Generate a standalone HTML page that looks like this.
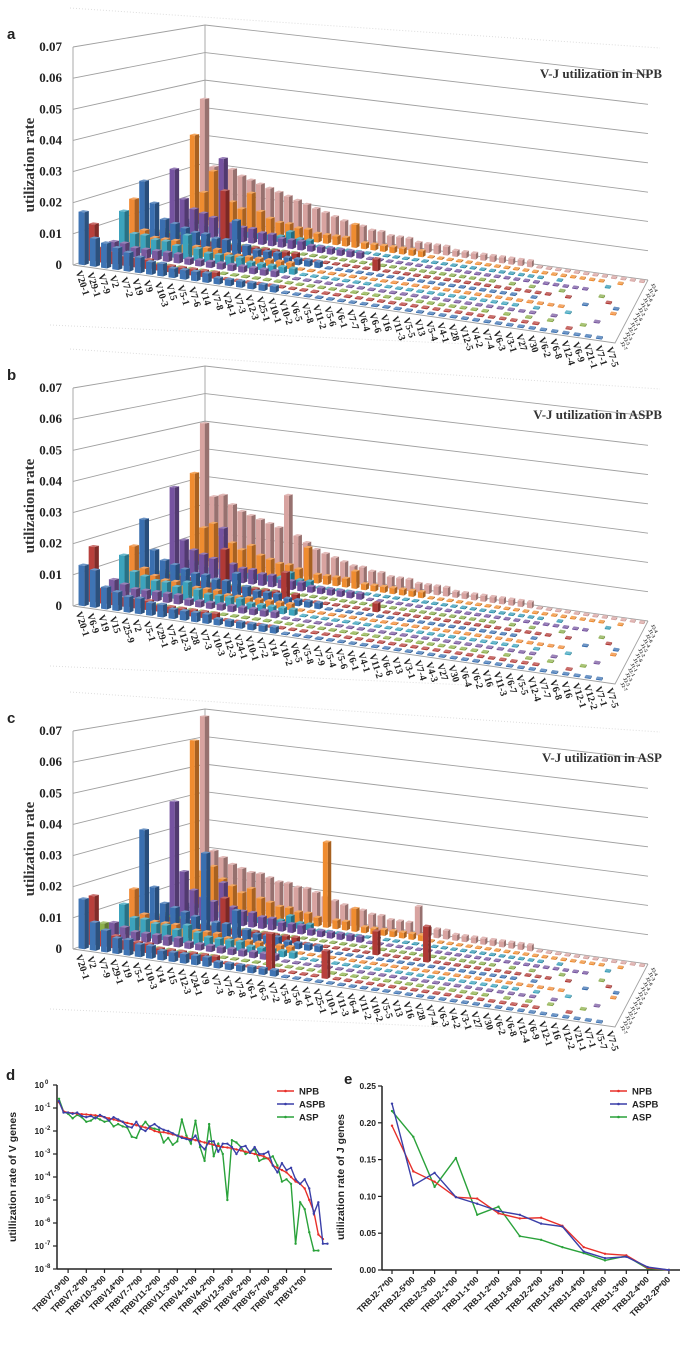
<!DOCTYPE html>
<html><head><meta charset="utf-8"><style>
html,body{margin:0;padding:0;background:#fff;}
svg{display:block;}
</style></head><body>
<svg id="fig" width="700" height="1346" viewBox="0 0 700 1346" xmlns="http://www.w3.org/2000/svg">
<g id="pa"></g>
<g id="pb"></g>
<g id="pc"></g>
<g id="pd"></g>
<g id="pe"></g>
</svg>
<script>
// ---------- 3D chart data (values in units of 0.001) ----------
const vLabelsA = ["V20-1","V29-1","V7-9","V2","V7-2","V19","V9","V10-3","V15","V5-1","V7-6","V14","V7-8","V24-1","V7-3","V12-3","V25-1","V10-1","V10-2","V6-5","V5-8","V11-2","V5-6","V6-1","V7-7","V6-4","V6-6","V16","V11-3","V5-5","V13","V5-4","V4-1","V28","V12-5","V4-2","V7-4","V6-3","V3-1","V27","V30","V6-2","V6-8","V12-4","V6-9","V21-1","V7-1","V7-5"];
const vLabelsB = ["V20-1","V6-9","V19","V15","V25-9","V2","V5-1","V29-1","V7-6","V12-3","V28","V7-3","V10-3","V12-3","V24-1","V10-1","V7-2","V14","V10-2","V6-5","V5-8","V7-9","V5-4","V5-6","V6-1","V4-1","V11-2","V6-6","V13","V3-1","V7-4","V4-3","V27","V30","V6-4","V6-2","V16","V11-3","V6-7","V5-5","V12-4","V7-7","V6-8","V16","V12-1","V12-2","V7-1","V7-5"];
const vLabelsC = ["V20-1","V2","V7-9","V29-1","V19","V5-1","V10-3","V14","V15","V12-3","V24-1","V9","V7-3","V7-6","V7-8","V6-1","V6-5","V7-2","V5-8","V5-6","V4-1","V25-1","V10-1","V11-3","V6-4","V11-2","V10-2","V5-5","V13","V16","V28","V7-4","V6-3","V4-2","V3-1","V27","V30","V6-2","V6-8","V12-4","V6-9","V12-1","V16","V12-2","V21-1","V7-1","V5-7","V7-5"];
const jLabels = ["J2-7","J2-5","J2-3","J2-1","J1-1","J1-2","J1-6","J2-2","J1-5","J1-4","J2-6","J1-3","J2-4"];

const npbRates = [
[17,9,8,7,6,5,4,4,3,3,3,3,2,2,2,2,2,2,1,1,1,1,1,1,1,1,1,1,1,1,1,1,1,1,1,1,1,1,1,1,1,1,1,1,1,1,1,0],
[12,5,4,3,3,3,2,2,2,2,2,2,1,1,1,1,1,1,1,1,1,1,1,1,1,1,1,1,1,1,1,1,1,1,1,1,1,1,1,1,1,0,0,1,0,0,0,0],
[1,1,1,1,1,1,1,1,1,1,1,1,1,1,1,1,1,1,1,1,1,1,1,1,1,1,1,1,1,1,1,1,1,1,1,1,0,1,0,1,0,1,0,0,1,0,0,0],
[4,4,3,3,3,3,3,2,2,2,2,2,2,2,2,2,1,1,1,1,1,1,1,1,1,1,1,1,1,1,1,1,1,1,1,1,1,1,1,1,0,1,0,0,0,1,0,0],
[13,6,6,5,5,4,8,4,3,3,3,3,2,2,2,2,2,1,1,1,1,1,1,1,1,1,1,1,1,1,1,1,1,1,1,1,1,1,0,1,0,0,1,0,0,0,0,0],
[16,6,4,4,4,3,3,3,3,2,2,2,2,2,2,2,1,1,1,1,1,1,1,1,1,1,1,1,1,1,1,1,1,1,1,1,1,1,1,1,1,1,0,0,0,0,1,0],
[21,14,9,8,7,6,6,5,5,12,4,3,3,3,2,2,2,2,1,1,1,1,1,1,1,1,1,1,1,1,1,1,1,1,1,1,1,0,1,0,0,0,0,1,0,0,1,0],
[3,3,3,3,3,2,2,20,2,2,2,2,2,2,2,1,1,1,1,1,1,1,4,1,1,1,1,1,1,1,1,1,1,1,1,1,1,1,1,1,0,1,0,0,0,1,0,0],
[2,2,2,1,1,1,1,1,1,1,1,1,1,1,1,1,1,1,1,1,1,1,1,1,1,1,1,1,1,1,1,1,1,1,0,1,0,1,0,0,1,0,0,0,1,0,0,0],
[22,12,9,8,7,28,6,5,5,4,4,3,3,3,2,2,2,2,2,2,1,1,1,1,1,1,1,1,1,1,1,1,1,1,1,1,1,1,1,1,1,1,1,0,0,0,0,0],
[3,3,2,2,2,2,2,2,2,2,2,4,2,2,1,1,1,1,1,1,1,1,1,1,1,1,1,1,1,1,1,1,1,1,1,1,1,1,0,1,0,0,0,0,1,0,0,0],
[32,12,20,14,10,8,14,8,6,5,5,4,4,3,3,3,3,8,2,2,2,2,2,2,2,1,1,1,1,1,1,1,1,1,1,1,1,1,1,1,1,1,1,1,0,1,0,0],
[44,20,22,20,18,17,16,15,14,13,12,11,10,9,8,7,6,6,5,5,4,4,4,3,3,3,3,2,2,2,2,2,2,2,2,2,1,1,1,1,1,1,1,1,1,1,1,1]
];
const aspbRates = [
[13,12,7,6,5,5,4,4,3,3,3,3,2,2,2,2,2,2,1,1,1,1,1,1,1,1,1,1,1,1,1,1,1,1,1,1,1,1,1,1,1,1,1,1,1,1,1,0],
[18,5,4,3,3,3,2,2,2,2,2,2,1,1,1,1,1,1,1,1,1,1,1,1,1,1,1,1,1,1,1,1,1,1,1,1,1,1,1,1,1,0,0,1,0,0,0,0],
[1,1,1,1,1,1,1,1,1,1,1,1,1,1,1,1,1,1,1,1,1,1,1,1,1,1,1,1,1,1,1,1,1,1,1,1,0,1,0,1,0,1,0,0,1,0,0,0],
[5,4,3,3,3,3,3,2,2,2,2,2,2,2,2,2,1,1,1,1,1,1,1,1,1,1,1,1,1,1,1,1,1,1,1,1,1,1,1,1,0,1,0,0,0,1,0,0],
[12,7,6,5,5,4,6,4,3,3,3,3,2,2,2,2,2,1,1,1,1,1,1,1,1,1,1,1,1,1,1,1,1,1,1,1,1,1,0,1,0,0,1,0,0,0,0,0],
[14,7,5,4,4,3,3,3,3,2,2,2,2,2,2,2,1,1,1,1,1,1,1,1,1,1,1,1,1,1,1,1,1,1,1,1,1,1,1,1,1,1,0,0,0,0,1,0],
[22,12,9,8,7,6,6,5,5,8,4,3,3,3,2,2,2,2,1,1,1,1,1,1,1,1,1,1,1,1,1,1,1,1,1,1,1,0,1,0,0,0,0,1,0,0,1,0],
[3,3,3,3,3,2,2,14,2,2,2,2,2,9,2,1,1,1,1,1,1,1,3,1,1,1,1,1,1,1,1,1,1,1,1,1,1,1,1,1,0,1,0,0,0,1,0,0],
[2,2,2,1,1,1,1,1,1,1,1,1,1,1,1,1,1,1,1,1,1,1,1,1,1,1,1,1,1,1,1,1,1,1,0,1,0,1,0,0,1,0,0,0,1,0,0,0],
[30,12,9,8,7,18,6,5,5,4,4,3,3,3,2,2,2,2,2,2,1,1,1,1,1,1,1,1,1,1,1,1,1,1,1,1,1,1,1,1,1,1,1,0,0,0,0,0],
[3,3,2,2,2,2,2,2,2,2,2,4,2,2,1,1,1,1,1,1,1,1,1,1,1,1,1,1,1,1,1,1,1,1,1,1,1,1,0,1,0,0,0,0,1,0,0,0],
[33,14,16,12,10,8,10,7,6,5,5,4,12,3,3,3,3,6,2,2,2,2,2,2,2,1,1,1,1,1,1,1,1,1,1,1,1,1,1,1,1,1,1,1,0,1,0,0],
[50,24,25,22,20,19,18,17,16,28,14,12,10,9,8,7,6,6,5,5,4,4,4,3,3,3,3,2,2,2,2,2,2,2,2,2,1,1,1,1,1,1,1,1,1,1,1,1]
];
const aspRates = [
[16,9,7,5,5,4,4,3,3,3,3,3,2,2,2,2,2,2,1,1,1,1,1,1,1,1,1,1,1,1,1,1,1,1,1,1,1,1,1,1,1,1,1,1,1,1,1,0],
[16,5,4,3,3,3,2,2,2,2,2,2,1,1,1,1,12,1,1,1,1,9,1,1,1,1,1,1,1,1,1,1,1,1,1,1,1,1,1,1,1,0,0,1,0,0,0,0],
[6,1,1,1,1,1,1,1,1,1,1,1,1,1,1,1,1,1,1,1,1,1,1,1,1,1,1,1,1,1,1,1,1,1,1,1,0,1,0,1,0,1,0,0,1,0,0,0],
[5,4,3,3,3,3,3,2,2,2,2,2,2,2,2,2,1,1,1,1,1,1,1,1,1,1,1,1,1,1,1,1,1,1,1,1,1,1,1,1,0,1,0,0,0,1,0,0],
[10,6,6,5,5,4,6,4,3,3,3,3,2,2,2,2,2,1,1,1,1,1,1,1,1,1,1,1,1,1,1,1,1,1,1,1,1,1,0,1,0,0,1,0,0,0,0,0],
[14,6,4,4,4,3,3,3,3,2,2,2,2,2,2,2,1,1,1,1,1,1,1,1,1,1,1,1,1,1,1,1,1,1,1,1,1,1,1,1,1,1,0,0,0,0,1,0],
[33,14,9,8,7,6,28,5,5,10,4,3,3,3,2,2,2,2,1,1,1,1,1,1,1,1,1,1,1,1,1,1,1,1,1,1,1,0,1,0,0,0,0,1,0,0,1,0],
[3,3,3,3,3,2,2,12,2,2,2,2,2,2,2,1,1,1,1,1,1,1,8,1,1,1,1,12,1,1,1,1,1,1,1,1,1,1,1,1,0,1,0,0,0,1,0,0],
[2,2,2,1,1,1,1,1,1,1,1,1,1,1,1,1,1,1,1,1,1,1,1,1,1,1,1,1,1,1,1,1,1,1,0,1,0,1,0,0,1,0,0,0,1,0,0,0],
[40,16,10,8,7,14,6,5,5,4,4,3,3,3,2,2,2,2,2,2,1,1,1,1,1,1,1,1,1,1,1,1,1,1,1,1,1,1,1,1,1,1,1,0,0,0,0,0],
[3,3,2,2,2,2,2,2,2,2,2,4,2,2,1,1,1,1,1,1,1,1,1,1,1,1,1,1,1,1,1,1,1,1,1,1,1,1,0,1,0,0,0,0,1,0,0,0],
[60,14,16,12,10,8,10,7,6,5,5,4,4,3,30,3,3,8,2,2,2,2,2,2,2,1,1,1,1,1,1,1,1,1,1,1,1,1,1,1,1,1,1,1,0,1,0,0],
[68,20,18,16,15,14,14,13,12,12,11,11,10,9,8,7,6,6,5,5,4,4,4,10,3,3,3,2,2,2,2,2,2,2,2,2,1,1,1,1,1,1,1,1,1,1,1,1]
];
const zTicks = ["0","0.01","0.02","0.03","0.04","0.05","0.06","0.07"];

// ---------- 2D chart data ----------
const vGeneTicks = ["TRBV7-9*00","TRBV7-2*00","TRBV10-3*00","TRBV14*00","TRBV7-7*00","TRBV11-2*00","TRBV11-3*00","TRBV4-1*00","TRBV4-2*00","TRBV12-5*00","TRBV6-2*00","TRBV5-7*00","TRBV6-8*00","TRBV1*00"];
const vNPB  = [-0.75,-1.15,-1.2,-1.22,-1.25,-1.27,-1.28,-1.3,-1.32,-1.35,-1.4,-1.45,-1.5,-1.55,-1.6,-1.65,-1.7,-1.75,-1.8,-1.85,-1.9,-2.0,-2.05,-2.05,-2.1,-2.15,-2.2,-2.25,-2.3,-2.35,-2.4,-2.45,-2.5,-2.55,-2.6,-2.65,-2.7,-2.72,-2.75,-2.8,-2.85,-2.9,-2.95,-3.0,-3.05,-3.1,-3.2,-3.5,-3.6,-3.7,-3.8,-4.0,-4.2,-4.3,-4.5,-5.0,-5.5,-6.5,-6.7];
const vASPB = [-0.7,-1.2,-1.2,-1.25,-1.2,-1.35,-1.4,-1.35,-1.45,-1.3,-1.4,-1.55,-1.4,-1.5,-1.6,-1.8,-1.85,-1.6,-1.9,-2.0,-1.8,-1.7,-1.85,-1.95,-2.0,-2.1,-2.2,-2.3,-2.35,-2.4,-2.2,-2.6,-2.8,-2.45,-2.45,-2.9,-2.55,-2.55,-2.7,-3.0,-2.7,-2.65,-2.95,-2.7,-3.0,-3.0,-2.9,-3.5,-3.8,-3.4,-3.7,-3.6,-4.1,-4.3,-4.1,-4.5,-5.6,-5.1,-6.9,-6.9];
const vASP  = [-0.6,-1.15,-1.25,-1.45,-1.3,-1.4,-1.6,-1.55,-1.4,-1.5,-1.6,-1.55,-1.8,-1.7,-1.8,-1.85,-2.25,-2.3,-1.85,-1.6,-1.85,-1.9,-1.95,-2.5,-2.3,-2.6,-2.45,-1.5,-2.2,-2.55,-1.55,-2.7,-3.3,-1.7,-3.1,-2.55,-3.0,-5.0,-2.4,-2.5,-2.7,-3.0,-2.9,-2.8,-3.3,-3.2,-3.2,-3.1,-3.5,-4.2,-4.1,-4.3,-6.9,-5.1,-5.4,-6.4,-7.2,-7.2];
const jGeneTicks = ["TRBJ2-7*00","TRBJ2-5*00","TRBJ2-3*00","TRBJ2-1*00","TRBJ1-1*00","TRBJ1-2*00","TRBJ1-6*00","TRBJ2-2*00","TRBJ1-5*00","TRBJ1-4*00","TRBJ2-6*00","TRBJ1-3*00","TRBJ2-4*00","TRBJ2-2P*00"];
const jNPB  = [0.196,0.134,0.120,0.099,0.097,0.077,0.070,0.071,0.060,0.031,0.022,0.020,0.003,0.000];
const jASPB = [0.226,0.115,0.132,0.099,0.090,0.080,0.075,0.063,0.059,0.025,0.016,0.018,0.004,0.000];
const jASP  = [0.216,0.181,0.113,0.152,0.075,0.086,0.046,0.041,0.031,0.023,0.013,0.019,0.002,0.000];
const eTicks = [0,0.05,0.10,0.15,0.20,0.25];

const NS = "http://www.w3.org/2000/svg";
function mk(parent, tag, attrs){ const e=document.createElementNS(NS,tag); for(const k in attrs) e.setAttribute(k,attrs[k]); parent.appendChild(e); return e; }
const rowColors = ['#3f74b4','#b8403c','#8db04a','#7a5aa0','#3ca3bd','#f08a35','#3a6fb0','#b03a36','#86aa48','#7553a0','#3399b5','#ef8c30','#d8a3a0'];

function draw3D(gid, oy, rates, vLabels, title, letter){
  const g=document.getElementById(gid);
  const FL=[73,265+oy], BL=[205,218+oy], BR=[648,280+oy], FR=[615,343+oy];
  const sFL=218, sBL=193, sBR=205, sFR=215; // px per 0.07
  const nV=48, nJ=13;
  function P(u,w,val){
    const x=(1-u)*(1-w)*FL[0]+u*(1-w)*FR[0]+(1-u)*w*BL[0]+u*w*BR[0];
    const y=(1-u)*(1-w)*FL[1]+u*(1-w)*FR[1]+(1-u)*w*BL[1]+u*w*BR[1];
    const s=(1-u)*(1-w)*sFL+u*(1-w)*sFR+(1-u)*w*sBL+u*w*sBR;
    return [x, y - val/70*s];
  }
  for(let k=0;k<zTicks.length;k++){
    const a=P(0,0,k*10), b=P(0,1,k*10), c=P(1,1,k*10);
    const ln=mk(g,'polyline',{points:`${a[0]},${a[1]} ${b[0]},${b[1]} ${c[0]},${c[1]}`,fill:'none',stroke:'#a0a0a0','stroke-width':0.9});
    
    
    const t=mk(g,'text',{x:62,y:a[1]+4,'text-anchor':'end','font-family':'Liberation Serif, serif','font-size':13,'font-weight':'bold',fill:'#222'});
    t.textContent=zTicks[k];
    
    
  }
  const top0=P(0,0,70), top1=P(0,1,70);
  mk(g,'line',{x1:FL[0],y1:FL[1],x2:top0[0],y2:top0[1],stroke:'#a0a0a0','stroke-width':0.9});
  mk(g,'line',{x1:BL[0],y1:BL[1],x2:top1[0],y2:top1[1],stroke:'#a0a0a0','stroke-width':0.9});
  mk(g,'polyline',{points:`${FL[0]},${FL[1]} ${FR[0]},${FR[1]} ${BR[0]},${BR[1]}`,fill:'none',stroke:'#a0a0a0','stroke-width':0.9});
  mk(g,'line',{x1:70,y1:8+oy,x2:660,y2:48+oy,stroke:'#ddd','stroke-width':1,'stroke-dasharray':'1,2'});
  mk(g,'line',{x1:50,y1:325+oy,x2:600,y2:350+oy,stroke:'#ddd','stroke-width':1,'stroke-dasharray':'1,2'});
  const w=0.26/nV, d=0.22/nJ;
  for(let j=nJ-1;j>=0;j--){
    const row=rates[j]; const col=rowColors[j];
    for(let v=row.length-1;v>=0;v--){
      let val=row[v]; if(!val) continue;
      const u=(v+0.5)/nV, ww=(j+0.5)/nJ;
      const h=val<=1?0.4:val;
      const a=P(u-w,ww-d,0), b=P(u+w,ww-d,0), c=P(u+w,ww-d,h), e=P(u-w,ww-d,h);
      const f=P(u+w,ww+d,0), gg=P(u+w,ww+d,h), hh=P(u-w,ww+d,h);
      const bar=mk(g,'g',{});
      
      
      mk(bar,'polygon',{points:`${b[0]},${b[1]} ${f[0]},${f[1]} ${gg[0]},${gg[1]} ${c[0]},${c[1]}`,fill:col});
      mk(bar,'polygon',{points:`${b[0]},${b[1]} ${f[0]},${f[1]} ${gg[0]},${gg[1]} ${c[0]},${c[1]}`,fill:'#000','fill-opacity':0.3});
      mk(bar,'polygon',{points:`${a[0]},${a[1]} ${b[0]},${b[1]} ${c[0]},${c[1]} ${e[0]},${e[1]}`,fill:col});
      mk(bar,'polygon',{points:`${e[0]},${e[1]} ${c[0]},${c[1]} ${gg[0]},${gg[1]} ${hh[0]},${hh[1]}`,fill:col});
      mk(bar,'polygon',{points:`${e[0]},${e[1]} ${c[0]},${c[1]} ${gg[0]},${gg[1]} ${hh[0]},${hh[1]}`,fill:'#fff','fill-opacity':0.25});
    }
  }
  for(let v=0;v<nV;v++){
    const p=P((v+0.5)/nV,0,0);
    const t=mk(g,'text',{x:p[0]-3,y:p[1]+6,'font-family':'Liberation Serif, serif','font-size':10,'font-weight':'bold',fill:'#222',transform:`rotate(72 ${p[0]-3} ${p[1]+6})`});
    t.textContent=vLabels[v];
    
    
  }
  for(let j=0;j<nJ;j++){
    const p=P(1,(j+0.5)/nJ,0);
    const t=mk(g,'text',{x:p[0]+4,y:p[1]+2,'font-family':'Liberation Serif, serif','font-size':5,'font-weight':'bold',fill:'#333',transform:`rotate(60 ${p[0]+4} ${p[1]+2})`});
    t.textContent=jLabels[j];
    
    
  }
  const yl=mk(g,'text',{x:34,y:165+oy,'text-anchor':'middle','font-family':'Liberation Serif, serif','font-size':15,'font-weight':'bold',fill:'#333',transform:`rotate(-90 34 ${165+oy})`});
  yl.textContent='utilization rate';
  
  
  const tt=mk(g,'text',{x:662,y:78+oy,'text-anchor':'end','font-family':'Liberation Serif, serif','font-size':13,'font-weight':'bold',fill:'#333'});
  tt.textContent=title;
  
  
  const lt=mk(g,'text',{x:7,y:39+oy,'font-family':'Liberation Sans, sans-serif','font-size':15,'font-weight':'bold',fill:'#222'});
  lt.textContent=letter;
  
  
}
draw3D('pa',0,npbRates,vLabelsA,'V-J utilization in NPB','a');
draw3D('pb',341,aspbRates,vLabelsB,'V-J utilization in ASPB','b');
draw3D('pc',684,aspRates,vLabelsC,'V-J utilization in ASP','c');

function legend(g,x,y){
  const items=[['NPB','#e8302a'],['ASPB','#3a3fa8'],['ASP','#2aa23a']];
  items.forEach((it,i)=>{
    const lg=mk(g,'g',{});
    
    
    mk(lg,'line',{x1:x,y1:y+i*13,x2:x+17,y2:y+i*13,stroke:it[1],'stroke-width':1.6});
    mk(lg,'circle',{cx:x+8.5,cy:y+i*13,r:1.3,fill:it[1]});
    const t=mk(lg,'text',{x:x+22,y:y+i*13+3.5,'font-family':'Liberation Sans, sans-serif','font-size':9.5,'font-weight':'bold',fill:'#222'});
    t.textContent=it[0];
  });
}
function series(g,xs,ys,col,name){
  const pts=xs.map((x,i)=>x+','+ys[i]).join(' ');
  const pl=mk(g,'polyline',{points:pts,fill:'none',stroke:col,'stroke-width':1.4});
  
  
  xs.forEach((x,i)=>{ const c=mk(g,'circle',{cx:x,cy:ys[i],r:1.2,fill:col});
    
     });
}
(function(){
  const g=document.getElementById('pd');
  const x0=57, x1=332, yTop=1085, yBot=1269;
  const X=i=>59+i*4.55, Y=l=>yTop+(0-l)/8*(yBot-yTop);
  mk(g,'line',{x1:x0,y1:yTop,x2:x0,y2:yBot,stroke:'#222','stroke-width':1.5});
  mk(g,'line',{x1:x0,y1:yBot,x2:x1,y2:yBot,stroke:'#222','stroke-width':1.5});
  for(let k=0;k<=8;k++){
    const y=Y(-k);
    mk(g,'line',{x1:x0-4,y1:y,x2:x0,y2:y,stroke:'#222','stroke-width':1.2});
    const t=mk(g,'text',{x:x0-13,y:y+3,'text-anchor':'end','font-family':'Liberation Sans, sans-serif','font-size':8.5,'font-weight':'bold',fill:'#222'});
    t.textContent='10';
    
    
    const s=mk(g,'text',{x:x0-12,y:y-1,'font-family':'Liberation Sans, sans-serif','font-size':6,'font-weight':'bold',fill:'#222'});
    s.textContent=k===0?'0':'-'+k;
  }
  vGeneTicks.forEach((lab,i)=>{
    const x=X(2+i*4);
    mk(g,'line',{x1:x,y1:yBot,x2:x,y2:yBot+4,stroke:'#222','stroke-width':1.2});
    const t=mk(g,'text',{x:x+2,y:yBot+10,'text-anchor':'end','font-family':'Liberation Sans, sans-serif','font-size':8.5,'font-weight':'bold',fill:'#222',transform:`rotate(-45 ${x+2} ${yBot+10})`});
    t.textContent=lab;
    
    
  });
  series(g,vASP.map((_,i)=>X(i)),vASP.map(Y),'#2aa23a','asp');
  series(g,vNPB.map((_,i)=>X(i)),vNPB.map(Y),'#e8302a','npb');
  series(g,vASPB.map((_,i)=>X(i)),vASPB.map(Y),'#3a3fa8','aspb');
  legend(g,277,1091);
  const yl=mk(g,'text',{x:16,y:1177,'text-anchor':'middle','font-family':'Liberation Sans, sans-serif','font-size':10.5,'font-weight':'bold',fill:'#222',transform:'rotate(-90 16 1177)'});
  yl.textContent='utillization rate of V genes';
  
  
  const lt=mk(g,'text',{x:6,y:1080,'font-family':'Liberation Sans, sans-serif','font-size':15,'font-weight':'bold',fill:'#222'});
  lt.textContent='d';
  
  
})();
(function(){
  const g=document.getElementById('pe');
  const x0=382, x1=680, yTop=1086, yBot=1270;
  const X=i=>392+i*21.3, Y=v=>yBot-v/0.25*(yBot-yTop);
  mk(g,'line',{x1:x0,y1:yTop,x2:x0,y2:yBot,stroke:'#222','stroke-width':1.5});
  mk(g,'line',{x1:x0,y1:yBot,x2:x1,y2:yBot,stroke:'#222','stroke-width':1.5});
  eTicks.forEach(v=>{
    const y=Y(v);
    mk(g,'line',{x1:x0-4,y1:y,x2:x0,y2:y,stroke:'#222','stroke-width':1.2});
    const t=mk(g,'text',{x:x0-6,y:y+3,'text-anchor':'end','font-family':'Liberation Sans, sans-serif','font-size':8.5,'font-weight':'bold',fill:'#222'});
    t.textContent=v.toFixed(2);
    
    
  });
  jGeneTicks.forEach((lab,i)=>{
    const x=X(i);
    mk(g,'line',{x1:x,y1:yBot,x2:x,y2:yBot+4,stroke:'#222','stroke-width':1.2});
    const t=mk(g,'text',{x:x+2,y:yBot+10,'text-anchor':'end','font-family':'Liberation Sans, sans-serif','font-size':8.5,'font-weight':'bold',fill:'#222',transform:`rotate(-45 ${x+2} ${yBot+10})`});
    t.textContent=lab;
    
    
  });
  series(g,jASP.map((_,i)=>X(i)),jASP.map(Y),'#2aa23a','asp');
  series(g,jNPB.map((_,i)=>X(i)),jNPB.map(Y),'#e8302a','npb');
  series(g,jASPB.map((_,i)=>X(i)),jASPB.map(Y),'#3a3fa8','aspb');
  legend(g,610,1091);
  const yl=mk(g,'text',{x:344,y:1177,'text-anchor':'middle','font-family':'Liberation Sans, sans-serif','font-size':10.5,'font-weight':'bold',fill:'#222',transform:'rotate(-90 344 1177)'});
  yl.textContent='utilization rate of J genes';
  
  
  const lt=mk(g,'text',{x:344,y:1084,'font-family':'Liberation Sans, sans-serif','font-size':15,'font-weight':'bold',fill:'#222'});
  lt.textContent='e';
  
  
})();
</script>
</body></html>
